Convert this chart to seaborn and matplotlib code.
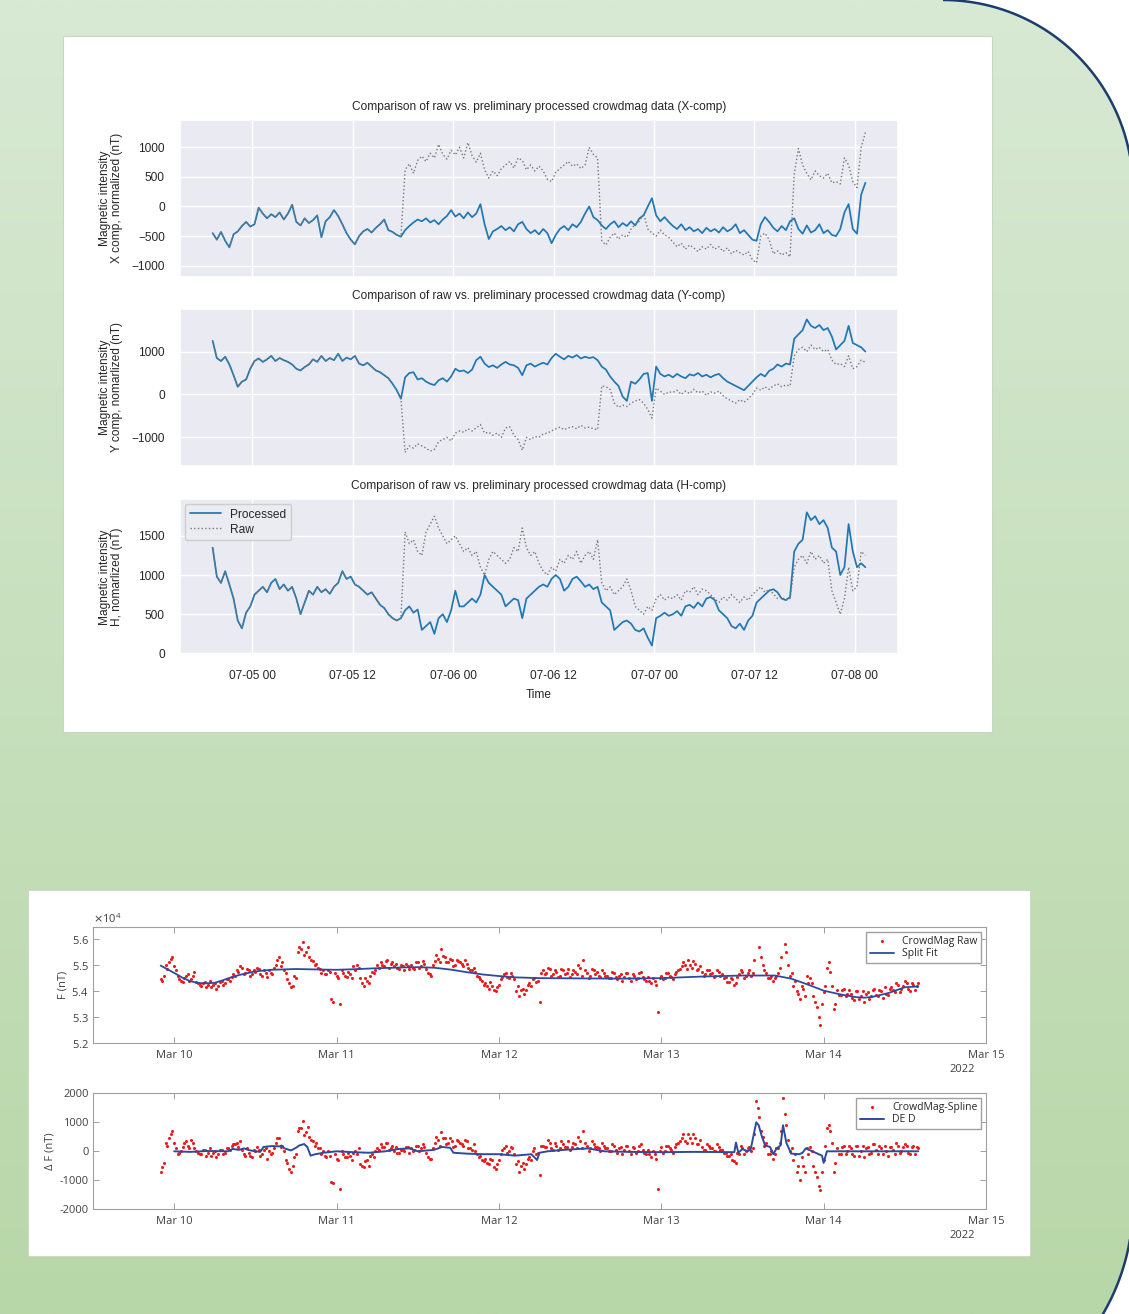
import numpy as np
import pandas as pd
import matplotlib
matplotlib.use("Agg")
import matplotlib.pyplot as plt
import matplotlib.dates as mdates
from matplotlib.path import Path
from matplotlib.patches import PathPatch, Rectangle
import seaborn as sns

# ------------------------------------------------------------------
# Top figure data: 30-min samples starting 07-04 19:15 (nT, normalized)
# ------------------------------------------------------------------
top_start = "2021-07-04 19:15"
n_shared = 46  # raw == processed before the first jump

x_processed = [
    -450, -560, -430, -580, -690, -470, -420, -330, -260, -340,
    -300, -20, -120, -200, -130, -180, -100, -220, -120, 30,
    -260, -320, -200, -280, -230, -150, -520, -250, -180, -60,
    -160, -300, -450, -560, -640, -500, -420, -380, -440, -360,
    -300, -220, -400, -430, -480, -510, -400, -330, -270, -220,
    -250, -200, -270, -230, -300, -220, -160, -60, -170, -120,
    -200, -100, -180, -120, 40, -300, -550, -420, -380, -330,
    -400, -350, -420, -300, -260, -380, -450, -400, -470, -380,
    -450, -620, -480, -380, -330, -400, -300, -350, -260, -120,
    0, -180, -230, -320, -380, -300, -250, -350, -280, -330,
    -250, -320, -200, -150, 0, 140, -150, -250, -180, -260,
    -330, -380, -300, -400, -350, -420, -380, -450, -360, -420,
    -380, -440, -350, -420, -380, -300, -450, -400, -480, -560,
    -580, -300, -180, -260, -360, -420, -330, -400, -250, -200,
    -380, -460, -320, -440, -400, -300, -450, -400, -480, -500,
    -380, -100, 40, -380, -460, 200, 400]
x_raw_tail = [
    620, 720, 560, 780,
    850, 760, 900, 820, 1050, 880, 800, 950, 870, 1000,
    820, 1080, 860, 750, 900, 620, 480, 600, 520, 640,
    700, 760, 650, 820, 780, 620, 700, 600, 680, 600,
    460, 420, 580, 640, 700, 760, 680, 720, 640, 700,
    1000, 880, 820, -580, -650, -520, -450, -550, -480, -520,
    -380, -300, -250, -120, -380, -450, -500, -400, -480, -520,
    -600, -680, -620, -720, -650, -700, -760, -680, -720, -640,
    -720, -680, -760, -700, -800, -740, -780, -820, -760, -900,
    -950, -500, -450, -560, -800, -750, -820, -780, -850, 550,
    980, 700, 560, 450, 600, 520, 480, 560, 400, 420,
    380, 820, 700, 420, 320, 1000, 1250]

y_processed = [
    1250, 850, 780, 880, 700, 450, 180, 300, 350, 600,
    780, 840, 760, 820, 900, 780, 850, 800, 760, 700,
    600, 560, 640, 700, 820, 760, 900, 780, 850, 800,
    950, 780, 860, 820, 900, 720, 680, 740, 650, 560,
    520, 450, 380, 250, 100, -100, 400, 500, 520, 350,
    380, 300, 250, 220, 330, 380, 300, 420, 600, 540,
    560, 500, 580, 800, 880, 720, 640, 680, 620, 700,
    760, 700, 680, 620, 450, 680, 720, 650, 700, 740,
    700, 850, 950, 880, 820, 900, 860, 920, 840, 880,
    850, 870, 800, 650, 580, 420, 300, 200, -50, -150,
    300, 250, 350, 480, 500, -150, 650, 480, 420, 460,
    400, 480, 420, 380, 470, 440, 500, 420, 460, 400,
    450, 480, 380, 300, 250, 200, 150, 100, 200, 300,
    400, 480, 420, 550, 600, 700, 650, 720, 700, 1300,
    1400, 1500, 1750, 1600, 1550, 1620, 1500, 1550, 1350, 1050,
    1150, 1250, 1600, 1200, 1150, 1100, 1000]
y_raw_tail = [
    -1350, -1200, -1250, -1150,
    -1200, -1250, -1320, -1280, -1100, -1050, -1000, -1080, -900, -850,
    -880, -800, -850, -780, -700, -900, -880, -950, -900, -1000,
    -780, -750, -950, -1050, -1300, -1000, -1050, -980, -1000, -920,
    -900, -850, -800, -760, -820, -780, -750, -800, -720, -780,
    -760, -800, -820, 200, 180, 120, -200, -300, -250, -280,
    -200, -150, -120, -200, -350, -550, 150, 80, 0, 60,
    50, 100, 0, 80, 20, 120, 40, 80, -20, 60,
    30, 80, -30, -100, -150, -200, -120, -180, -100, 0,
    150, 100, 180, 120, 200, 250, 180, 220, 200, 900,
    1050, 1100, 1000, 1150, 1050, 1100, 1000, 1050, 800, 700,
    720, 650, 900, 600, 650, 800, 750]

h_processed = [
    1350, 980, 900, 1050, 880, 700, 420, 320, 520, 600,
    750, 800, 850, 780, 900, 950, 820, 880, 800, 850,
    700, 500, 650, 800, 750, 850, 780, 820, 760, 850,
    900, 1050, 950, 980, 880, 850, 800, 750, 780, 700,
    620, 580, 500, 450, 420, 450, 550, 600, 520, 560,
    300, 350, 400, 250, 450, 500, 400, 550, 800, 600,
    600, 650, 700, 650, 750, 1000, 900, 850, 800, 750,
    600, 650, 700, 680, 450, 700, 750, 800, 850, 880,
    850, 950, 1000, 950, 800, 850, 950, 980, 920, 850,
    880, 820, 850, 650, 600, 550, 300, 350, 400, 420,
    380, 300, 280, 320, 200, 100, 450, 480, 520, 480,
    500, 540, 480, 600, 620, 580, 650, 600, 700, 720,
    680, 550, 500, 450, 350, 320, 380, 300, 420, 480,
    650, 700, 750, 800, 820, 780, 700, 680, 720, 1300,
    1400, 1450, 1800, 1700, 1750, 1650, 1700, 1600, 1350, 1300,
    1000, 1100, 1650, 1300, 1100, 1150, 1100]
h_raw_tail = [
    1550, 1400, 1450, 1300,
    1250, 1550, 1650, 1750, 1600, 1500, 1400, 1450, 1500, 1400,
    1300, 1350, 1250, 1300, 1100, 1000, 1200, 1300, 1250, 1200,
    1150, 1200, 1350, 1300, 1600, 1350, 1250, 1300, 1150, 1050,
    1000, 1100, 1050, 1200, 1150, 1250, 1200, 1300, 1150, 1250,
    1300, 1200, 1450, 900, 800, 850, 750, 800, 850, 950,
    800, 600, 550, 500, 600, 550, 700, 750, 680, 720,
    700, 750, 680, 800, 780, 850, 750, 820, 800, 750,
    700, 650, 720, 680, 750, 700, 650, 720, 680, 750,
    800, 850, 780, 820, 760, 700, 720, 680, 700, 1100,
    1200, 1250, 1150, 1300, 1200, 1250, 1150, 1200, 800, 650,
    500, 700, 1100, 800, 850, 1300, 1250]

x_raw = x_processed[:n_shared] + x_raw_tail
y_raw = y_processed[:n_shared] + y_raw_tail
h_raw = h_processed[:n_shared] + h_raw_tail

# ------------------------------------------------------------------
# Bottom figure data: two interleaved 30-min sample sets
# (set A from 2022-03-09 22:00, set B from 22:15)
# ------------------------------------------------------------------
bot_start_a = "2022-03-09 22:00"
bot_start_b = "2022-03-09 22:15"
f_raw_a = [
    54450, 54600, 54850, 55250, 54950, 54600, 54400, 54500, 54650, 54450, 54750, 54300,
    54200, 54350, 54250, 54150, 54300, 54200, 54400, 54300, 54450, 54550, 54600, 54750,
    54900, 54700, 54800, 54650, 54750, 54850, 54600, 54700, 54800, 54650, 55000, 55300,
    55100, 54700, 54300, 54200, 54500, 55700, 55900, 55500, 55300, 55150, 55050, 54850,
    54800, 54650, 54750, 53600, 54600, 53500, 54700, 54550, 54650, 54950, 55000, 54500,
    54200, 54400, 54600, 54700, 55000, 55100, 54950, 55200, 55050, 54950, 54900, 55000,
    54800, 54950, 55000, 54850, 55100, 54950, 55050, 54700, 54600, 55150, 55250, 55600,
    55300, 55100, 55200, 55000, 55150, 55050, 55200, 54900, 54800, 54750, 54550, 54400,
    54300, 54100, 54200, 54000, 54250, 54550, 54700, 54500, 54600, 54000, 53800, 54100,
    54050, 54300, 54450, 54350, 53600, 54800, 54700, 54850, 54650, 54750, 54600, 54800,
    54700, 54550, 54800, 54650, 54900, 55200, 54700, 54600, 54800, 54750, 54550, 54700,
    54600, 54500, 54700, 54450, 54650, 54550, 54700, 54400, 54600, 54500, 54750, 54450,
    54550, 54300, 54400, 53200, 54600, 54500, 54700, 54550, 54650, 54800, 54950, 55000,
    55200, 54900, 55050, 54850, 54750, 54650, 54800, 54700, 54600, 54750, 54650, 54550,
    54350, 54450, 54300, 54650, 54750, 54600, 54800, 54700, 56600, 55700, 55000, 54700,
    54500, 54400, 54600, 54900, 56600, 55500, 54600, 54200, 54000, 53700, 54100, 54600,
    54500, 53800, 53400, 52700, 53950, 54900, 54750, 53300, 54050, 53850, 54100, 53900,
    53900, 53650, 54000, 53800, 53600, 53950, 53800, 54100, 53800, 54000, 54150, 53850,
    54150, 53950, 54250, 54100, 54400, 54100, 54300, 54050, 54300]
f_raw_b = [
    54400, 55000, 55100, 55300, 54800, 54450, 54350, 54600, 54400, 54600, 54350, 54250,
    54300, 54150, 54400, 54250, 54100, 54350, 54250, 54450, 54400, 54650, 54800, 54950,
    54650, 54850, 54600, 54800, 54900, 54650, 54800, 54550, 54700, 54900, 55200, 54950,
    54800, 54450, 54150, 54600, 55500, 55600, 55400, 55700, 55200, 55000, 54900, 54700,
    54650, 54800, 53700, 54700, 54500, 54800, 54600, 54750, 54500, 54800, 54900, 54300,
    54500, 54300, 54750, 54800, 54900, 55000, 55150, 54900, 55100, 55050, 54850, 54950,
    55050, 54850, 54900, 55100, 54900, 55150, 54850, 54650, 55000, 55400, 55100, 55350,
    55100, 55250, 54950, 55200, 55100, 54950, 55050, 54800, 54900, 54600, 54450, 54250,
    54200, 54350, 54050, 54150, 54450, 54650, 54550, 54700, 54450, 54200, 54050, 53900,
    54250, 54200, 54500, 54400, 54700, 54650, 54900, 54600, 54800, 54550, 54850, 54650,
    54850, 54650, 54750, 55000, 54600, 54800, 54500, 54850, 54650, 54600, 54800, 54600,
    54500, 54750, 54550, 54600, 54400, 54700, 54500, 54650, 54450, 54700, 54550, 54400,
    54400, 54500, 54250, 54500, 54450, 54700, 54600, 54450, 54750, 54850, 55100, 54850,
    55000, 55150, 54800, 54950, 54600, 54800, 54650, 54550, 54800, 54600, 54500, 54350,
    54500, 54250, 54550, 54800, 54500, 54700, 54600, 55200, 57000, 55300, 54800, 54500,
    54600, 54500, 54700, 55300, 55800, 55000, 54700, 54400, 53900, 54200, 53800, 54300,
    54300, 53600, 53000, 53500, 54200, 55100, 54200, 53500, 53850, 54050, 53800, 54050,
    53750, 54000, 53700, 54000, 53900, 53700, 54050, 53850, 54050, 53750, 53900, 54100,
    54050, 54300, 53950, 54200, 54300, 54000, 54250, 54200]
delta_f_a = [
    -700, -400, 200, 600, 300, -100, 0, 300, 200, 400, 100, -50,
    -100, 50, -50, -150, 0, -100, 50, -50, 100, 200, 250, 150,
    50, -150, -50, -200, 0, 50, -100, 100, 0, -50, 300, 450,
    200, -300, -600, -500, -100, 800, 1050, 650, 500, 350, 300, 100,
    0, -200, -150, -1100, -250, -1300, -100, -200, -150, -50, -100, -450,
    -550, -300, -150, -200, 100, 250, 150, 300, 100, 0, -50, 50,
    0, 150, 100, 50, 200, 100, 150, -200, -250, 300, 400, 650,
    450, 300, 350, 200, 350, 250, 400, 100, 50, 0, -200, -300,
    -250, -450, -300, -600, -300, 50, 200, 0, 100, -450, -700, -400,
    -450, -200, 0, -100, -800, 200, 150, 300, 50, 200, 100, 250,
    150, 50, 300, 100, 350, 700, 200, 100, 250, 150, 0, 200,
    100, 0, 200, -50, 150, 50, 200, -100, 100, 0, 250, -50,
    50, -200, -100, -1300, 150, 0, 200, 50, 150, 300, 450, 350,
    600, 300, 450, 250, 150, 50, 200, 100, 0, 150, 50, -50,
    -150, -300, -400, -100, 100, 0, 150, 100, 1750, 1200, 500, 300,
    -100, -250, 100, 300, 1850, 900, 0, -300, -700, -1000, -500, 100,
    150, -500, -900, -1350, -300, 800, 700, -700, 100, -100, 200, 0,
    100, -150, 200, 0, -200, 150, -50, 250, -100, 100, 200, -150,
    150, -100, 200, 0, 250, -50, 150, -100, 100]
delta_f_b = [
    -550, 300, 450, 700, 100, -50, 150, 350, 100, 300, 0, -100,
    50, -150, 100, -50, -200, 50, -100, 100, 50, 250, 300, 350,
    -100, 100, -150, 50, 150, -150, 50, -250, -100, 100, 450, 150,
    0, -400, -700, -200, 700, 800, 550, 850, 400, 200, 100, -100,
    -150, 0, -1050, -100, -300, 0, -200, -50, -300, 0, 100, -500,
    -350, -500, -100, 0, 50, 150, 300, 50, 200, 150, -50, 50,
    150, -50, 0, 200, 0, 250, -50, -250, 100, 500, 200, 450,
    250, 450, 150, 400, 300, 200, 350, 100, 250, -100, -150, -350,
    -400, -250, -550, -450, -100, 100, -50, 150, -100, -350, -500, -600,
    -250, -300, 100, -50, 200, 150, 400, 100, 300, 50, 350, 150,
    350, 150, 250, 500, 100, 300, 0, 350, 150, 100, 300, 100,
    0, 250, 50, 100, -100, 200, 0, 150, -50, 200, 50, -100,
    -100, 0, -250, 0, -50, 200, 100, -50, 250, 350, 600, 300,
    450, 600, 250, 400, 50, 250, 100, 0, 250, 50, -50, -150,
    -100, -350, -50, 200, -100, 100, 0, 600, 1500, 700, 200, -100,
    0, -100, 100, 700, 1300, 400, 100, -100, -500, -200, -700, -100,
    0, -700, -1200, -700, 200, 900, 300, -400, -100, 150, -100, 200,
    -100, 200, -150, 200, 100, -100, 250, 50, 200, -100, 0, 150,
    50, 300, -50, 150, 200, -100, 200, 150]

# Split fit (days after 2022-03-10 00:00, nT)
fit_days = [-0.083, 0.0, 0.05, 0.1, 0.15, 0.2, 0.25, 0.3, 0.35, 0.4,
            0.5, 0.6, 0.75, 0.9, 1.0, 1.1, 1.25, 1.4, 1.5, 1.6,
            1.7, 1.8, 1.9, 2.0, 2.1, 2.25, 2.5, 2.75, 3.0, 3.25,
            3.5, 3.7, 3.8, 3.9, 4.0, 4.1, 4.2, 4.25, 4.3, 4.4,
            4.5, 4.583]
fit_f = [54980, 54700, 54520, 54380, 54310, 54300, 54320, 54420, 54530, 54620,
         54760, 54820, 54850, 54830, 54820, 54840, 54880, 54910, 54920, 54900,
         54830, 54730, 54640, 54580, 54530, 54500, 54490, 54480, 54500, 54560,
         54600, 54600, 54480, 54260, 54020, 53880, 53770, 53750, 53780, 53930,
         54150, 54180]

# DE D (days after 2022-03-10 00:00, nT)
ded_days = [0.0, 0.1, 0.2, 0.33, 0.36, 0.4, 0.43, 0.46, 0.5, 0.53,
            0.55, 0.6, 0.65, 0.66, 0.68, 0.72, 0.75, 0.77, 0.8, 0.82,
            0.84, 0.87, 0.92, 1.0, 1.1, 1.2, 1.3, 1.38, 1.45, 1.5,
            1.6, 1.65, 1.7, 1.72, 1.8, 1.9, 2.0, 2.1, 2.2, 2.235,
            2.25, 2.3, 2.4, 2.55, 2.6, 2.65, 2.8, 3.0, 3.2, 3.45,
            3.46, 3.475, 3.5, 3.53, 3.55, 3.585, 3.6, 3.62, 3.64, 3.67,
            3.69, 3.71, 3.735, 3.75, 3.77, 3.8, 3.85, 3.87, 3.89, 3.93,
            3.99, 4.0, 4.02, 4.1, 4.3, 4.583]
ded_vals = [0, -20, 10, 0, 80, 50, 100, 40, 0, -20,
            150, 180, 170, 200, 100, 30, 120, 200, 250, 150,
            -150, -100, -50, 0, -30, -50, 0, 80, 100, 0,
            50, 150, 120, -50, -80, -100, -100, -150, -100, -300,
            -50, 0, 50, 100, 50, 0, -20, -30, -20, -30,
            300, -50, 80, 0, 50, 1000, 900, 500, 200, 150,
            -100, 100, 200, 900, 300, -80, -100, -50, 100, 0,
            -150, -400, 0, 0, 0, 0]

f_ticks = [52000, 53000, 54000, 55000, 56000]
df_ticks = [-2000, -1000, 0, 1000, 2000]

# ------------------------------------------------------------------
sns.set_theme(style="darkgrid")
plt.rcParams["font.family"] = ["Liberation Sans", "DejaVu Sans"]

W, H = 1129, 1314
fig = plt.figure(figsize=(W / 100, H / 100), dpi=100, facecolor="white")

# background: green shape with navy rounded right edge
bg = fig.add_axes([0, 0, 1, 1])
bg.set_xlim(0, W)
bg.set_ylim(H, 0)
bg.axis("off")
th1 = np.linspace(-np.pi / 2, 0, 80)
th2 = np.linspace(0, np.pi / 2, 80)
top_arc = np.c_[943 + 190 * np.cos(th1), 190 + 190 * np.sin(th1)]
bot_arc = np.c_[913 + 220 * np.cos(th2), 1203 + 220 * np.sin(th2)]
verts = np.vstack([[[-20, 0]], top_arc, bot_arc, [[-20, 1423]], [[-20, 0]]])
shape = PathPatch(Path(verts, closed=True), facecolor="none",
                  edgecolor="none", lw=0, zorder=2)
bg.add_patch(shape)
c_top = np.array([216, 233, 212]) / 255
c_bot = np.array([184, 215, 168]) / 255
g = np.linspace(0, 1, 256)[:, None, None]
grad = c_top + (c_bot - c_top) * g
im = bg.imshow(grad, extent=[0, W, H, 0], aspect="auto", zorder=1,
               interpolation="bilinear")
im.set_clip_path(shape)
# navy outline only along the two rounded corners
bg.plot(top_arc[:, 0], top_arc[:, 1], color="#1d3c6e", lw=1.8, zorder=2,
        solid_capstyle="butt")
bg.plot(bot_arc[:, 0], bot_arc[:, 1], color="#1d3c6e", lw=1.8, zorder=2,
        solid_capstyle="butt")
bg.set_xlim(0, W)
bg.set_ylim(H, 0)
bg.add_patch(Rectangle((63, 36), 929, 696, facecolor="white",
                       edgecolor="#c9d6c4", lw=0.8, zorder=3))
bg.add_patch(Rectangle((28, 890), 1002, 366, facecolor="white",
                       edgecolor="#c9d6c4", lw=0.6, zorder=3))

# ---------------- top: seaborn darkgrid panels ----------------
FS = 8.6
ax1 = fig.add_axes([180 / W, 1 - 276.7 / H, 718 / W, 156.7 / H])
ax2 = fig.add_axes([180 / W, 1 - 465.7 / H, 718 / W, 156.7 / H], sharex=ax1)
ax3 = fig.add_axes([180 / W, 1 - 655 / H, 718 / W, 156 / H], sharex=ax1)

specs = [
    (ax1, x_processed, x_raw, "X-comp", "Magnetic intensity\nX comp, normalized (nT)",
     (-1186, 1461), [-1000, -500, 0, 500, 1000]),
    (ax2, y_processed, y_raw, "Y-comp", "Magnetic intensity\nY comp, nomarlized (nT)",
     (-1660, 1993), [-1000, 0, 1000]),
    (ax3, h_processed, h_raw, "H-comp", "Magnetic intensity\nH, nomarlized (nT)",
     (-20, 1970), [0, 500, 1000, 1500]),
]
for ax, proc, raw, comp, ylab, ylim, yt in specs:
    tp = pd.date_range(top_start, periods=len(proc), freq="30min")
    tr = pd.date_range(top_start, periods=len(raw), freq="30min")
    sns.lineplot(x=tp, y=proc, ax=ax, color="#1f77b4", linewidth=1.25,
                 label="Processed", legend=False, errorbar=None)
    sns.lineplot(x=tr, y=raw, ax=ax, color="#777777", linewidth=1.0,
                 linestyle=":", label="Raw", legend=False, errorbar=None)
    ax.set_ylim(*ylim)
    ax.set_yticks(yt)
    ax.set_title(f"Comparison of raw vs. preliminary processed crowdmag data ({comp})",
                 fontsize=FS, pad=7, color=".15")
    ax.set_ylabel(ylab, fontsize=FS, linespacing=1.0, color=".15")
    ax.yaxis.set_label_coords(-0.079, 0.5)
    ax.set_xlabel("")
    ax.tick_params(axis="y", length=0, pad=11, labelsize=FS, labelcolor=".15")
    ax.tick_params(axis="x", length=0, pad=11, labelsize=FS, labelcolor=".15")

ax1.xaxis.set_major_locator(mdates.HourLocator(byhour=[0, 12]))
ax1.xaxis.set_major_formatter(mdates.DateFormatter("%m-%d %H"))
ax1.tick_params(labelbottom=False)
ax2.tick_params(labelbottom=False)
ax3.set_xlabel("Time", fontsize=FS, labelpad=5, color=".15")
ax3.legend(loc="upper left", fontsize=FS, frameon=True, framealpha=0.85,
           facecolor="#ececf2", edgecolor="#c8c8c8", borderpad=0.4,
           handlelength=2.6, labelspacing=0.25, borderaxespad=0.4)

# ---------------- bottom: MATLAB-like panels ----------------
with sns.axes_style("white"):
    ax4 = fig.add_axes([93 / W, 1 - 1043.3 / H, 893 / W, 116 / H])
    ax5 = fig.add_axes([93 / W, 1 - 1209.3 / H, 893 / W, 116 / H])

BF = "Open Sans"
BFS = 8
RED = "#ec1c1c"
BLUE = "#2d4b9e"
base = pd.Timestamp("2022-03-10")
t_fa = pd.date_range(bot_start_a, periods=len(f_raw_a), freq="30min")
t_fb = pd.date_range(bot_start_b, periods=len(f_raw_b), freq="30min")
t_da = pd.date_range(bot_start_a, periods=len(delta_f_a), freq="30min")
t_db = pd.date_range(bot_start_b, periods=len(delta_f_b), freq="30min")
fit_t = base + pd.to_timedelta(fit_days, unit="D")
ded_t = base + pd.to_timedelta(ded_days, unit="D")

raw_df = pd.DataFrame({"t": t_fa.append(t_fb), "F": f_raw_a + f_raw_b})
dlt_df = pd.DataFrame({"t": t_da.append(t_db), "dF": delta_f_a + delta_f_b})

sns.scatterplot(data=raw_df, x="t", y="F", ax=ax4, color=RED, s=5, linewidth=0,
                label="CrowdMag Raw", legend=False, zorder=2)
sns.lineplot(x=fit_t, y=fit_f, ax=ax4, color=BLUE, linewidth=1.3,
             label="Split Fit", legend=False, errorbar=None, zorder=3)
sns.scatterplot(data=dlt_df, x="t", y="dF", ax=ax5, color=RED, s=5, linewidth=0,
                label="CrowdMag-Spline", legend=False, zorder=2)
sns.lineplot(x=ded_t, y=ded_vals, ax=ax5, color=BLUE, linewidth=1.4,
             label="DE D", legend=False, errorbar=None, zorder=3)

x0 = mdates.date2num(pd.Timestamp("2022-03-09 12:00"))
x1 = mdates.date2num(pd.Timestamp("2022-03-15 00:00"))
for ax in (ax4, ax5):
    ax.set_facecolor("white")
    ax.grid(False)
    ax.set_xlim(x0, x1)
    ax.xaxis.set_major_locator(mdates.DayLocator())
    ax.xaxis.set_major_formatter(mdates.DateFormatter("%b %d"))
    for s in ax.spines.values():
        s.set_visible(True)
        s.set_color("#a0a0a0")
        s.set_linewidth(0.8)
    ax.tick_params(direction="in", top=True, right=True, bottom=True, left=True,
                   length=4, width=0.7, color="#a0a0a0", labelcolor="#404040",
                   labelsize=BFS, labelfontfamily=BF)
    ax.tick_params(axis="x", pad=5)
    ax.tick_params(axis="y", pad=3)
    ax.set_xlabel("")

ax4.set_ylim(52000, 56450)
ax4.set_yticks(f_ticks)
ax4.ticklabel_format(axis="y", style="sci", scilimits=(4, 4), useMathText=True)
ot = ax4.yaxis.get_offset_text()
ot.set_fontsize(BFS)
ot.set_color("#404040")
ot.set_family(BF)
ax4.set_ylabel("F (nT)", fontsize=BFS, family=BF, color="#404040")
ax4.yaxis.set_label_coords(-0.027, 0.5)

ax5.set_ylim(-2000, 2000)
ax5.set_yticks(df_ticks)
ax5.set_yticklabels([str(v) for v in df_ticks])
ax5.set_ylabel("\u0394 F (nT)", fontsize=BFS, family=BF, color="#404040")
ax5.yaxis.set_label_coords(-0.042, 0.5)

for ax in (ax4, ax5):
    ax.legend(loc="upper right", prop={"family": BF, "size": 7.5}, frameon=True,
              fancybox=False, facecolor="white", edgecolor="#a0a0a0",
              framealpha=1, borderpad=0.35, handlelength=2.3, labelspacing=0.15,
              borderaxespad=0.45, markerscale=1.0)

fig.text(962 / W, 1 - 1070 / H, "2022", ha="center", va="center",
         fontsize=BFS, family=BF, color="#404040")
fig.text(962 / W, 1 - 1236 / H, "2022", ha="center", va="center",
         fontsize=BFS, family=BF, color="#404040")

fig.savefig("out.png", dpi=100, facecolor="white")
